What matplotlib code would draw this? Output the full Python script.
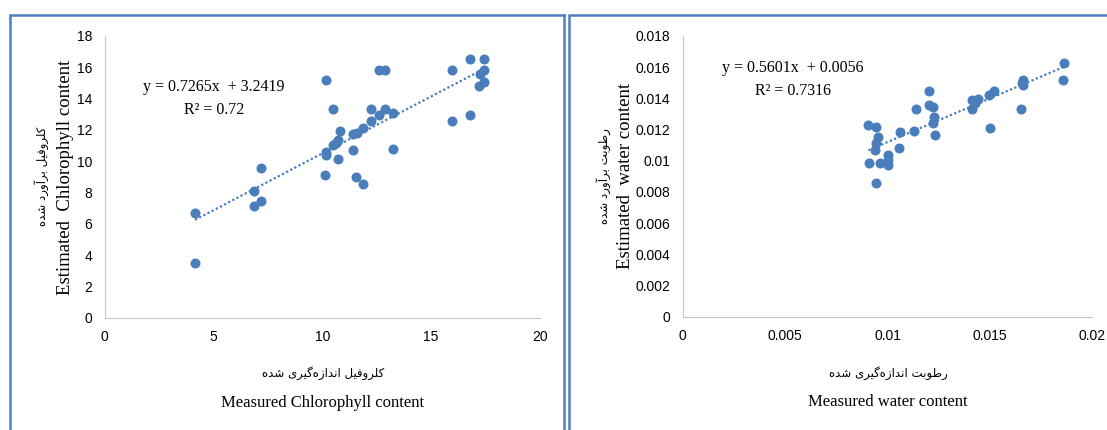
import matplotlib
matplotlib.use("Agg")
import matplotlib.pyplot as plt
from matplotlib.lines import Line2D

# chlorophyll: measured vs estimated
chl_measured = [4.16, 4.16, 7.17, 6.85, 6.85, 7.17, 10.18, 10.51, 10.14, 10.17,
                10.17, 10.51, 10.72, 10.81, 10.73, 10.62, 11.41, 11.39, 11.58, 11.55,
                11.87, 11.87, 12.25, 12.25, 12.62, 12.88, 12.62, 12.88, 13.26, 13.26,
                15.94, 15.94, 16.78, 16.78, 17.42, 17.42, 17.24, 17.42, 17.21]
chl_estimated = [6.68, 3.49, 9.59, 8.08, 7.15, 7.45, 15.19, 13.32, 9.13, 10.61,
                 10.40, 11.04, 10.13, 11.93, 11.36, 11.20, 10.72, 11.72, 11.78, 9.02,
                 8.55, 12.10, 13.32, 12.59, 15.83, 15.83, 12.95, 13.32, 13.06, 10.78,
                 15.83, 12.57, 16.51, 12.95, 16.51, 15.83, 15.57, 15.08, 14.83]
chl_slope, chl_intercept, chl_r2 = 0.7265, 3.2419, 0.72

# water content: measured vs estimated
wc_measured = [0.00906, 0.00942, 0.00955, 0.00942, 0.00940, 0.00911, 0.00963, 0.01000,
               0.01000, 0.01000, 0.00942, 0.01060, 0.01057, 0.01130, 0.01137, 0.01202,
               0.01202, 0.01223, 0.01228, 0.01223, 0.01231, 0.01410, 0.01410, 0.01443,
               0.01425, 0.01496, 0.01519, 0.01500, 0.01654, 0.01660, 0.01662, 0.01650,
               0.01862, 0.01858]
wc_estimated = [0.01230, 0.01219, 0.01155, 0.01116, 0.01069, 0.00984, 0.00984, 0.01037,
                0.01005, 0.00973, 0.00856, 0.01183, 0.01082, 0.01193, 0.01334, 0.01448,
                0.01358, 0.01343, 0.01283, 0.01241, 0.01165, 0.01390, 0.01330, 0.01396,
                0.01370, 0.01422, 0.01448, 0.01212, 0.01497, 0.01518, 0.01485, 0.01334,
                0.01625, 0.01518]
wc_slope, wc_intercept, wc_r2 = 0.5601, 0.0056, 0.7316

chl_xticks = [0, 5, 10, 15, 20]
chl_yticks = [0, 2, 4, 6, 8, 10, 12, 14, 16, 18]
wc_xticks = [0, 0.005, 0.01, 0.015, 0.02]
wc_yticks = [0, 0.002, 0.004, 0.006, 0.008, 0.01, 0.012, 0.014, 0.016, 0.018]

# isolated, final, initial, medial presentation forms
FORMS = {
    'ا': ('\uFE8D', '\uFE8E', None, None),
    'آ': ('\uFE81', '\uFE82', None, None),
    'ب': ('\uFE8F', '\uFE90', '\uFE91', '\uFE92'),
    'ت': ('\uFE95', '\uFE96', '\uFE97', '\uFE98'),
    'د': ('\uFEA9', '\uFEAA', None, None),
    'ر': ('\uFEAD', '\uFEAE', None, None),
    'ز': ('\uFEAF', '\uFEB0', None, None),
    'ش': ('\uFEB5', '\uFEB6', '\uFEB7', '\uFEB8'),
    'ط': ('\uFEC1', '\uFEC2', '\uFEC3', '\uFEC4'),
    'ف': ('\uFED1', '\uFED2', '\uFED3', '\uFED4'),
    'ل': ('\uFEDD', '\uFEDE', '\uFEDF', '\uFEE0'),
    'ن': ('\uFEE5', '\uFEE6', '\uFEE7', '\uFEE8'),
    'ه': ('\uFEE9', '\uFEEA', '\uFEEB', '\uFEEC'),
    'و': ('\uFEED', '\uFEEE', None, None),
    'ک': ('\uFB8E', '\uFB8F', '\uFB90', '\uFB91'),
    'گ': ('\uFB92', '\uFB93', '\uFB94', '\uFB95'),
    'ی': ('\uFBFC', '\uFBFD', '\uFBFE', '\uFBFF'),
}


def fa(s):
    # simple persian shaping + right-to-left ordering for matplotlib
    out = []
    for i, c in enumerate(s):
        if c == '\u200c':
            continue
        if c not in FORMS:
            out.append(c)
            continue
        prev = s[i - 1] if i > 0 else ''
        nxt = s[i + 1] if i + 1 < len(s) else ''
        jp = prev in FORMS and FORMS[prev][2] is not None
        jn = FORMS[c][2] is not None and nxt in FORMS
        iso, fin, ini, med = FORMS[c]
        if jp and jn:
            out.append(med)
        elif jp:
            out.append(fin)
        elif jn:
            out.append(ini)
        else:
            out.append(iso)
    return ''.join(reversed(out))


def fmt(v):
    return '0' if v == 0 else ('%g' % v)


blue = '#4a7ebb'
serif = ['Liberation Serif', 'DejaVu Serif']
sans = ['Liberation Sans', 'DejaVu Sans']
persian = ['DejaVu Sans']

fig = plt.figure(figsize=(11.07, 4.30), dpi=100)
ax1 = fig.add_axes([0.0944, 0.2605, 0.3934, 0.6558])
ax2 = fig.add_axes([0.6167, 0.2635, 0.3702, 0.6528])


def draw(ax, xs, ys, slope, icpt, xticks, yticks):
    ax.scatter(xs, ys, s=52, color=blue, zorder=3, linewidths=0)
    lo, hi = min(xs), max(xs)
    ax.plot([lo, hi], [slope * lo + icpt, slope * hi + icpt], color=blue,
            lw=1.6, linestyle=(0, (1, 1.1)), zorder=2)
    ax.set_xlim(xticks[0], xticks[-1])
    ax.set_ylim(yticks[0], yticks[-1])
    ax.set_xticks(xticks)
    ax.set_yticks(yticks)
    ax.set_xticklabels([fmt(v) for v in xticks], family=sans, fontsize=10)
    ax.set_yticklabels([fmt(v) for v in yticks], family=sans, fontsize=10)
    ax.tick_params(length=0, pad=9)
    for sp in ['top', 'right']:
        ax.spines[sp].set_visible(False)
    for sp in ['left', 'bottom']:
        ax.spines[sp].set_color('#c8c8c8')
        ax.spines[sp].set_linewidth(0.8)


draw(ax1, chl_measured, chl_estimated, chl_slope, chl_intercept, chl_xticks, chl_yticks)
draw(ax2, wc_measured, wc_estimated, wc_slope, wc_intercept, wc_xticks, wc_yticks)

# trendline equations
ax1.text(0.2514, 0.819, 'y = %.4fx  + %.4f' % (chl_slope, chl_intercept),
         transform=ax1.transAxes, ha='center', va='center', family=serif, fontsize=11.5)
ax1.text(0.2514, 0.7376, 'R² = %g' % chl_r2, transform=ax1.transAxes,
         ha='center', va='center', family=serif, fontsize=11.5)
ax2.text(0.269, 0.885, 'y = %.4fx  + %.4f' % (wc_slope, wc_intercept),
         transform=ax2.transAxes, ha='center', va='center', family=serif, fontsize=11.5)
ax2.text(0.269, 0.805, 'R² = %g' % wc_r2, transform=ax2.transAxes,
         ha='center', va='center', family=serif, fontsize=11.5)

# axis titles (pixel positions converted to figure fractions)
W, H = 1107.0, 430.0
fig.text(323 / W, 1 - 373 / H, fa('کلروفیل اندازه‌گیری شده'), ha='center', va='center',
         family=persian, fontsize=8.5)
fig.text(323 / W, 1 - 403 / H, 'Measured Chlorophyll content', ha='center', va='center',
         family=serif, fontsize=12)
fig.text(66 / W, 1 - 177 / H, 'Estimated  Chlorophyll content', ha='center', va='center',
         rotation=90, family=serif, fontsize=13.5)
fig.text(42 / W, 1 - 176 / H, fa('کلروفیل برآورد شده'), ha='center', va='center',
         rotation=90, family=persian, fontsize=8.5)

fig.text(888 / W, 1 - 373 / H, fa('رطوبت اندازه‌گیری شده'), ha='center', va='center',
         family=persian, fontsize=8.5)
fig.text(888 / W, 1 - 402 / H, 'Measured water content', ha='center', va='center',
         family=serif, fontsize=12)
fig.text(626 / W, 1 - 176 / H, 'Estimated  water content', ha='center', va='center',
         rotation=90, family=serif, fontsize=13.5)
fig.text(604 / W, 1 - 176 / H, fa('رطوبت برآورد شده'), ha='center', va='center',
         rotation=90, family=persian, fontsize=8.5)

# blue frames around each chart
frame = '#4f7fc0'
fx = lambda p: p / W
fy = lambda p: 1 - p / H
for xs_, ys_ in [([9.5, 9.5, 564], [430, 15, 15]),
                 ([564, 564], [15, 430]),
                 ([569, 569, 1107], [430, 15, 15])]:
    fig.add_artist(Line2D([fx(v) for v in xs_], [fy(v) for v in ys_],
                          color=frame, lw=1.8, solid_joinstyle='miter'))

fig.savefig('out.png', dpi=100)
